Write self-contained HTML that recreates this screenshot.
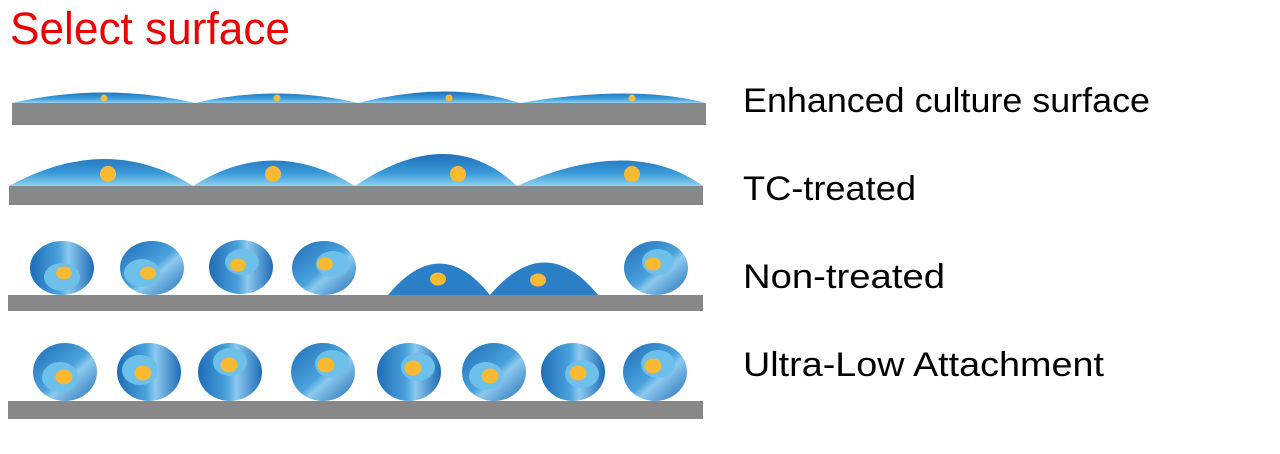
<!DOCTYPE html>
<html><head><meta charset="utf-8"><style>html,body{margin:0;padding:0;background:#fff;}svg{display:block}</style></head>
<body>
<svg width="1280" height="454" viewBox="0 0 1280 454" xmlns="http://www.w3.org/2000/svg">
<defs>
<linearGradient id="dome" x1="0" y1="0" x2="0" y2="1">
<stop offset="0" stop-color="#1f6fb8"/><stop offset="0.6" stop-color="#3a9ad8"/><stop offset="1" stop-color="#8fd0f2"/></linearGradient>
<linearGradient id="dome2" x1="0" y1="0" x2="0" y2="1">
<stop offset="0" stop-color="#2a7cc4"/><stop offset="1" stop-color="#2a7cc4"/></linearGradient>
<linearGradient id="cell" x1="0" y1="0" x2="1" y2="0">
<stop offset="0" stop-color="#1e6cb6"/><stop offset="0.45" stop-color="#4aa2dc"/><stop offset="0.6" stop-color="#8cc9ee"/><stop offset="1" stop-color="#1e6cb6"/></linearGradient>
<linearGradient id="cellb" x1="0" y1="0" x2="1" y2="1">
<stop offset="0" stop-color="#1e6cb6"/><stop offset="0.5" stop-color="#4aa2dc"/><stop offset="0.6" stop-color="#8cc9ee"/><stop offset="1" stop-color="#1e6cb6"/></linearGradient>
</defs>
<text x="10" y="44" font-family="Liberation Sans, sans-serif" font-size="45" fill="#ee0000" textLength="280" lengthAdjust="spacingAndGlyphs">Select surface</text>

<!-- Row1 -->
<path d="M12 103 Q104 82 195 103 Q277 84 358 103 Q449 80 520 103 Q632 84 706 103 Z" fill="url(#dome)"/>
<rect x="12" y="103" width="694" height="22" fill="#888"/>
<g fill="#f9b933"><circle cx="104" cy="98" r="3.5"/><circle cx="277" cy="98" r="3.5"/><circle cx="449" cy="98" r="3.5"/><circle cx="632" cy="98" r="3.5"/></g>

<!-- Row2 -->
<path d="M9 186 Q108 132 193 186 Q273 135 355 186 Q450 122 517 186 Q632 135 703 186 Z" fill="url(#dome)"/>
<rect x="9" y="186" width="694" height="19" fill="#888"/>
<g fill="#f9b933"><circle cx="108" cy="174" r="8"/><circle cx="273" cy="174" r="8"/><circle cx="458" cy="174" r="8"/><circle cx="632" cy="174" r="8"/></g>

<!-- Row3 -->
<path d="M388 295 Q440 232 490 295 Q545 230 598 295 Z" fill="#2b7fc6"/>
<g>
<ellipse cx="62" cy="268" rx="32" ry="27" fill="url(#cell)"/><ellipse cx="62" cy="277" rx="18" ry="14" fill="#6cc0ea"/>
<ellipse cx="152" cy="268" rx="32" ry="27" fill="url(#cellb)"/><ellipse cx="142" cy="273" rx="18" ry="14" fill="#6cc0ea"/>
<ellipse cx="241" cy="267" rx="32" ry="27" fill="url(#cell)"/><ellipse cx="242" cy="262" rx="17" ry="13" fill="#6cc0ea"/>
<ellipse cx="324" cy="268" rx="32" ry="27" fill="url(#cellb)"/><ellipse cx="333" cy="264" rx="17" ry="13" fill="#6cc0ea"/>
<ellipse cx="656" cy="268" rx="32" ry="27" fill="url(#cellb)"/><ellipse cx="658" cy="262" rx="16" ry="13" fill="#6cc0ea"/>
</g>
<rect x="8" y="295" width="695" height="16" fill="#888"/>
<g fill="#f9b933">
<ellipse cx="64" cy="273" rx="8" ry="6.5"/><ellipse cx="148" cy="273" rx="8" ry="6.5"/><ellipse cx="238" cy="265" rx="8" ry="6.5"/><ellipse cx="325" cy="264" rx="8" ry="6.5"/><ellipse cx="438" cy="279" rx="8" ry="6.5"/><ellipse cx="538" cy="280" rx="8" ry="6.5"/><ellipse cx="653" cy="264" rx="8" ry="6.5"/>
</g>

<!-- Row4 -->
<g>
<ellipse cx="65" cy="372" rx="32" ry="29" fill="url(#cellb)"/><ellipse cx="60" cy="377" rx="18" ry="15" fill="#6cc0ea"/>
<ellipse cx="149" cy="372" rx="32" ry="29" fill="url(#cell)"/><ellipse cx="140" cy="370" rx="18" ry="15" fill="#6cc0ea"/>
<ellipse cx="230" cy="372" rx="32" ry="29" fill="url(#cell)"/><ellipse cx="230" cy="362" rx="17" ry="14" fill="#6cc0ea"/>
<ellipse cx="323" cy="372" rx="32" ry="29" fill="url(#cellb)"/><ellipse cx="332" cy="364" rx="17" ry="14" fill="#6cc0ea"/>
<ellipse cx="409" cy="372" rx="32" ry="29" fill="url(#cell)"/><ellipse cx="418" cy="367" rx="17" ry="14" fill="#6cc0ea"/>
<ellipse cx="494" cy="372" rx="32" ry="29" fill="url(#cellb)"/><ellipse cx="486" cy="376" rx="17" ry="14" fill="#6cc0ea"/>
<ellipse cx="573" cy="372" rx="32" ry="29" fill="url(#cell)"/><ellipse cx="582" cy="374" rx="17" ry="14" fill="#6cc0ea"/>
<ellipse cx="655" cy="372" rx="32" ry="29" fill="url(#cellb)"/><ellipse cx="658" cy="364" rx="17" ry="14" fill="#6cc0ea"/>
</g>
<rect x="8" y="401" width="695" height="18" fill="#888"/>
<g fill="#f9b933">
<ellipse cx="64" cy="377" rx="8.5" ry="7.5"/><ellipse cx="143" cy="373" rx="8.5" ry="7.5"/><ellipse cx="229" cy="365" rx="8.5" ry="7.5"/><ellipse cx="326" cy="365" rx="8.5" ry="7.5"/><ellipse cx="413" cy="368" rx="8.5" ry="7.5"/><ellipse cx="490" cy="376" rx="8.5" ry="7.5"/><ellipse cx="578" cy="373" rx="8.5" ry="7.5"/><ellipse cx="653" cy="366" rx="8.5" ry="7.5"/>
</g>

<g font-family="Liberation Sans, sans-serif" font-size="34" fill="#000" lengthAdjust="spacingAndGlyphs">
<text x="743" y="112" textLength="407" lengthAdjust="spacingAndGlyphs">Enhanced culture surface</text>
<text x="743" y="200" textLength="173" lengthAdjust="spacingAndGlyphs">TC-treated</text>
<text x="743" y="288" textLength="202" lengthAdjust="spacingAndGlyphs">Non-treated</text>
<text x="743" y="376" textLength="361" lengthAdjust="spacingAndGlyphs">Ultra-Low Attachment</text>
</g>
</svg>
</body></html>
